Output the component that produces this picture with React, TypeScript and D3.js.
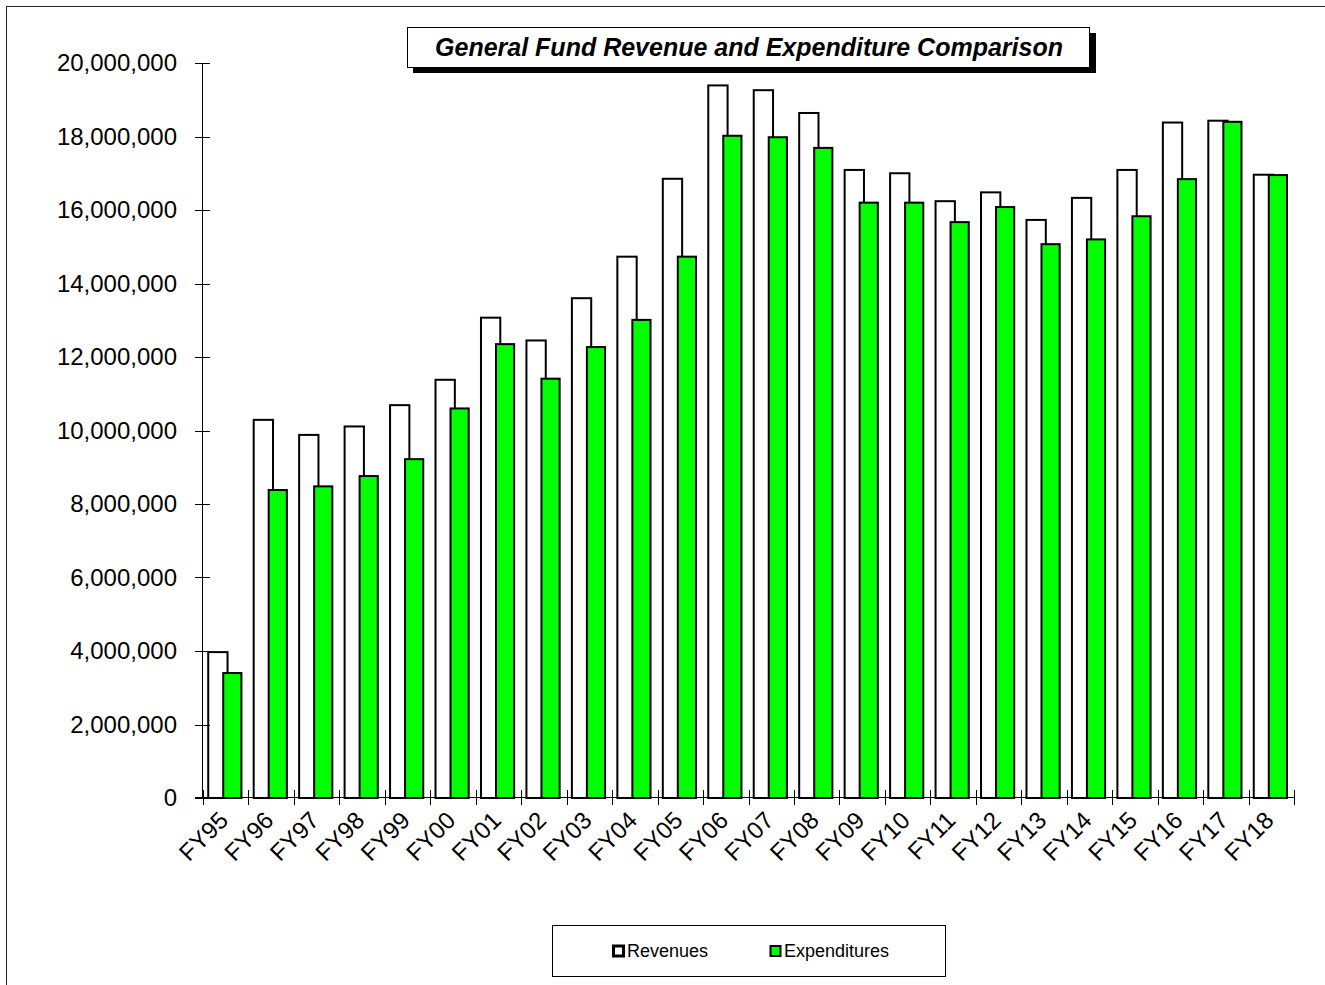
import React from "react";
import * as d3 from "d3";

const categories = [
  "FY95", "FY96", "FY97", "FY98", "FY99", "FY00", "FY01", "FY02", "FY03", "FY04", "FY05", "FY06",
  "FY07", "FY08", "FY09", "FY10", "FY11", "FY12", "FY13", "FY14", "FY15", "FY16", "FY17", "FY18",
];

const revenues = [
  3970000, 10290000, 9880000, 10110000, 10690000, 11380000, 13070000, 12450000, 13600000, 14730000,
  16850000, 19390000, 19260000, 18640000, 17090000, 17000000, 16240000, 16480000, 15730000, 16330000,
  17090000, 18380000, 18430000, 16960000,
];

const expenditures = [
  3400000, 8380000, 8480000, 8760000, 9220000, 10600000, 12350000, 11410000, 12270000, 13010000,
  14730000, 18020000, 17980000, 17690000, 16200000, 16200000, 15670000, 16080000, 15070000, 15200000,
  15830000, 16840000, 18400000, 16950000,
];

const yTicks = [0, 2000000, 4000000, 6000000, 8000000, 10000000, 12000000, 14000000, 16000000, 18000000, 20000000];

const title = "General Fund Revenue and Expenditure Comparison";
const seriesNames = ["Revenues", "Expenditures"];

const W = 1325;
const H = 985;
const FONT = "Arial, 'Liberation Sans', Helvetica, sans-serif";

export default function App() {
  const x = d3.scaleBand<string>().domain(categories).range([203, 1294]).padding(0);
  const y = d3.scaleLinear().domain([0, 20000000]).range([798, 63]);
  const bw = x.bandwidth();
  const fmt = d3.format(",");

  return (
    <svg
      width={W}
      height={H}
      style={{ position: "absolute", left: 0, top: 0, background: "#fff" }}
      fontFamily={FONT}
    >
      {/* chart frame */}
      <rect x={6.5} y={6.5} width={W + 20} height={H + 20} fill="none" stroke="#222" strokeWidth={1} />

      {/* bars: revenues behind, expenditures overlapping in front */}
      {categories.map((c, i) => {
        const x0 = x(c)!;
        return (
          <g key={c}>
            <rect
              x={x0 + 0.115 * bw}
              y={y(revenues[i])}
              width={0.425 * bw}
              height={y(0) - y(revenues[i])}
              fill="#fff"
              stroke="#000"
              strokeWidth={2}
            />
            <rect
              x={x0 + 0.445 * bw}
              y={y(expenditures[i])}
              width={0.4 * bw}
              height={y(0) - y(expenditures[i])}
              fill="#00ff00"
              stroke="#000"
              strokeWidth={2}
            />
          </g>
        );
      })}

      {/* y axis */}
      <line x1={202.5} x2={202.5} y1={y(20000000)} y2={y(0)} stroke="#000" strokeWidth={1} />
      {yTicks.map((t) => (
        <g key={t}>
          <line x1={195} x2={210} y1={Math.round(y(t)) + 0.5} y2={Math.round(y(t)) + 0.5} stroke="#000" strokeWidth={1} />
          <text x={177} y={y(t)} dy="0.35em" textAnchor="end" fontSize={24} fill="#000">
            {fmt(t)}
          </text>
        </g>
      ))}

      {/* x axis */}
      <line x1={195} x2={1294} y1={797.5} y2={797.5} stroke="#000" strokeWidth={1} />
      {d3.range(categories.length + 1).map((i) => {
        const xx = Math.round(203 + i * bw) + 0.5;
        return <line key={i} x1={xx} x2={xx} y1={790} y2={805} stroke="#000" strokeWidth={1} />;
      })}
      {categories.map((c) => {
        const cx = x(c)! + bw / 2 - 8;
        const cy = 810;
        return (
          <text
            key={c}
            x={cx}
            y={cy}
            textAnchor="end"
            dy="0.7em"
            fontSize={24}
            transform={`rotate(-45, ${cx}, ${cy})`}
            fill="#000"
          >
            {c}
          </text>
        );
      })}

      {/* title box with drop shadow */}
      <rect x={413} y={33} width={683} height={40} fill="#000" />
      <rect x={407.5} y={27.5} width={682} height={40} fill="#fff" stroke="#000" strokeWidth={1} />
      <text
        x={749}
        y={56}
        textAnchor="middle"
        fontSize={25}
        fontWeight="bold"
        fontStyle="italic"
        fill="#000"
      >
        {title}
      </text>

      {/* legend */}
      <rect x={552.5} y={925.5} width={393} height={51} fill="#fff" stroke="#000" strokeWidth={1} />
      <rect x={613.5} y={946} width={10} height={10} fill="#fff" stroke="#000" strokeWidth={3} />
      <text x={627} y={951} dy="0.35em" fontSize={18} fill="#000">
        {seriesNames[0]}
      </text>
      <rect x={770.5} y={946} width={10} height={10} fill="#00ff00" stroke="#000" strokeWidth={2} />
      <text x={784} y={951} dy="0.35em" fontSize={18} fill="#000">
        {seriesNames[1]}
      </text>
    </svg>
  );
}
